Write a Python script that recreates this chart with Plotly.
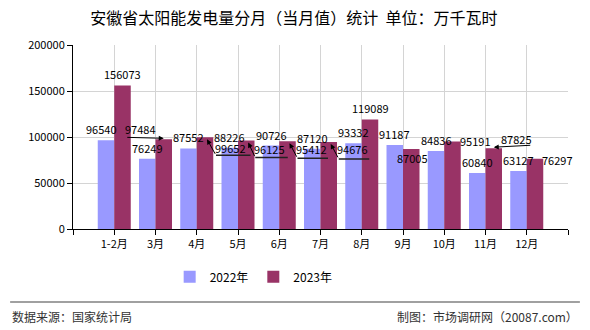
import plotly.graph_objects as go

categories = ["1-2月", "3月", "4月", "5月", "6月", "7月", "8月", "9月", "10月", "11月", "12月"]
values_2022 = [96540, 76249, 87552, 88226, 90726, 87120, 93332, 91187, 84836, 60840, 63127]
values_2023 = [156073, 97484, 99652, 96125, 95412, 94676, 119089, 87005, 95191, 87825, 76297]
series_names = ["2022年", "2023年"]
y_ticks = [0, 50000, 100000, 150000, 200000]

COL_2022 = "#9999FF"
COL_2023 = "#993366"
FONT = "Noto Sans CJK SC, DejaVu Sans, sans-serif"

xs = list(range(len(categories)))

fig = go.Figure()
fig.add_trace(go.Bar(x=xs, y=values_2022, name=series_names[0], marker_color=COL_2022,
                     marker_line_width=0))
fig.add_trace(go.Bar(x=xs, y=values_2023, name=series_names[1], marker_color=COL_2023,
                     marker_line_width=0))

# label placement adjustments (pixel offsets from the default spot above the bar)
label_shift = {
    (0, 0): (-5, 0),
    (1, 1): (-23, 1),
    (1, 2): (25, 22),
    (1, 3): (23, 19),
    (1, 4): (24, 19),
    (1, 5): (24, 18),
    (1, 7): (1, 20),
    (1, 8): (23, 11),
    (1, 9): (23, 2),
    (1, 10): (22, 12),
}
# leaders: ("elbow", elbow dx, elbow dy, horizontal length) or ("flat", ax, ay)
leaders = {
    (1, 1): ("flat", -38, -1),
    (1, 2): ("elbow", 9, 16, 36),
    (1, 3): ("elbow", 7, 15, 34),
    (1, 4): ("elbow", 8, 15, 32),
    (1, 5): ("elbow", 8, 15, 32),
    (1, 9): ("flat", 38, -2),
}

annotations = []
for s, vals in enumerate([values_2022, values_2023]):
    off = -0.2 if s == 0 else 0.2
    for i, v in enumerate(vals):
        dx, dy = label_shift.get((s, i), (0, 0))
        annotations.append(dict(x=i + off, y=v, xref="x", yref="y", text=str(v),
                                showarrow=False, xanchor="center", yanchor="middle",
                                xshift=dx, yshift=11 - dy,
                                font=dict(size=11, color="#000000", family=FONT)))
        if (s, i) in leaders:
            ld = leaders[(s, i)]
            if ld[0] == "flat":
                annotations.append(dict(x=i + off, y=v, xref="x", yref="y", text="",
                                        showarrow=True, arrowhead=2, arrowsize=1, arrowwidth=1,
                                        arrowcolor="#000000", ax=ld[1], ay=ld[2], yshift=1))
            else:
                annotations.append(dict(x=i + off, y=v, xref="x", yref="y", text="",
                                        showarrow=True, arrowhead=2, arrowsize=1, arrowwidth=1,
                                        arrowcolor="#000000", ax=ld[1], ay=ld[2],
                                        xshift=2, yshift=-2))
                annotations.append(dict(x=i + off, y=v, xref="x", yref="y", text="",
                                        showarrow=True, arrowhead=0, arrowwidth=1.5,
                                        arrowcolor="#222222", ax=ld[3], ay=0,
                                        xshift=2 + ld[1], yshift=-2 - ld[2],
                                        standoff=0, startstandoff=0))

# footer
annotations.append(dict(x=-0.127, y=-0.473, xref="paper", yref="paper", text="数据来源：国家统计局",
                        showarrow=False, xanchor="left", yanchor="middle",
                        font=dict(size=12, color="#333333", family=FONT)))
annotations.append(dict(x=1.024, y=-0.473, xref="paper", yref="paper",
                        text="制图：市场调研网（20087.com）",
                        showarrow=False, xanchor="right", yanchor="middle",
                        font=dict(size=12, color="#333333", family=FONT)))

fig.update_layout(
    width=590, height=330,
    margin=dict(l=73, r=22, t=45, b=101),
    paper_bgcolor="#FFFFFF", plot_bgcolor="#FFFFFF",
    barmode="group", bargap=0.2, bargroupgap=0,
    font=dict(family=FONT, size=11, color="#000000"),
    title=dict(text="安徽省太阳能发电量分月（当月值）统计  单位：万千瓦时",
               x=0.498, xref="container", xanchor="center",
               y=1 - 18 / 330, yref="container", yanchor="middle",
               font=dict(size=16, color="#000000", family=FONT)),
    legend=dict(orientation="h", x=0.365, y=-0.26, xanchor="center", yanchor="middle",
                font=dict(size=12, color="#000000", family=FONT),
                itemwidth=30, traceorder="normal"),
    annotations=annotations,
    shapes=[dict(type="line", xref="paper", yref="paper", x0=-0.127, x1=1.024,
                 y0=-0.397, y1=-0.397, line=dict(color="#808080", width=1.5))],
    showlegend=True,
)

fig.update_xaxes(
    range=[-1, len(categories)],
    tickmode="array",
    tickvals=list(range(-1, len(categories) + 1)),
    ticktext=[""] + categories + [""],
    ticks="outside", ticklen=5, tickcolor="#000000",
    showline=True, linecolor="#000000", linewidth=1,
    showgrid=True, gridcolor="#D4D4D4", gridwidth=1,
    zeroline=False,
    tickfont=dict(size=11, color="#000000", family=FONT),
)
fig.update_yaxes(
    range=[0, 200000],
    tickmode="array", tickvals=y_ticks, ticktext=[str(t) for t in y_ticks],
    ticks="outside", ticklen=5, tickcolor="#000000",
    showline=True, linecolor="#000000", linewidth=1,
    showgrid=True, gridcolor="#D4D4D4", gridwidth=1,
    zeroline=False,
    tickfont=dict(size=11, color="#000000", family=FONT),
)

fig.write_html("out.html")
